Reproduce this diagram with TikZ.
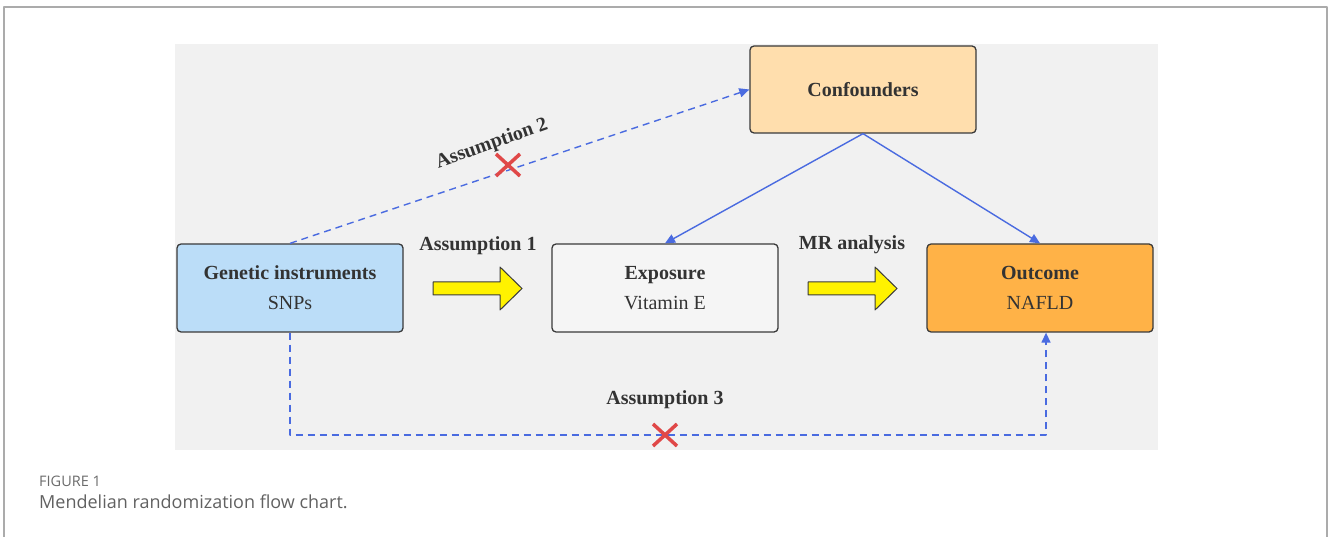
\documentclass[tikz,border=0pt]{standalone}
\usepackage{fontspec}
\setmainfont{Liberation Serif}
\newfontfamily\captionfont{Open Sans}
\usetikzlibrary{arrows.meta}
\definecolor{panel}{HTML}{F1F1F1}
\definecolor{frame}{HTML}{ABABAB}
\definecolor{edge}{HTML}{3A3A3A}
\definecolor{ink}{HTML}{333333}
\definecolor{link}{HTML}{4A6BE0}
\definecolor{cross}{HTML}{E04848}
\definecolor{genfill}{HTML}{BBDDF8}
\definecolor{expfill}{HTML}{F5F5F5}
\definecolor{outfill}{HTML}{FFB247}
\definecolor{confill}{HTML}{FFDEAD}
\begin{document}
\begin{tikzpicture}[x=1pt, y=-1pt, line join=round, font=\fontsize{20}{30}\selectfont,
  >={Triangle[length=10pt,width=9pt]},
  box/.style={draw=edge, line width=1.3pt, rounded corners=4pt, minimum width=226pt,
    minimum height=88pt, align=center, inner sep=0pt, text=ink},
  lbl/.style={text=ink, font=\fontsize{20}{24}\selectfont\bfseries},
  solidlink/.style={draw=link, line width=1.4pt, ->},
  dashlink/.style={draw=link, line width=1.4pt, dash pattern=on 7pt off 5pt, ->}]
	\useasboundingbox (0,0) rectangle (1328,537);
	\draw[frame, line width=1.5pt] (4,537) -- (4,7) -- (1327,7) -- (1327,537);
	\fill[panel] (175,44) rectangle (1158,450);
	% boxes
	\node[box, fill=genfill] (gen) at (290,288) {\textbf{Genetic instruments}\\SNPs};
	\node[box, fill=expfill] (expo) at (665,288) {\textbf{Exposure}\\Vitamin E};
	\node[box, fill=outfill] (outc) at (1040,288) {\textbf{Outcome}\\NAFLD};
	\node[box, fill=confill, minimum height=87pt] (conf) at (863,89.5) {\textbf{Confounders}};
	% yellow arrows
	\foreach \xa in {433, 808}
		\filldraw[fill=yellow, draw=edge, line width=1pt] (\xa,282) -- (\xa+67,282) -- (\xa+67,267)
			-- (\xa+89,288.5) -- (\xa+67,310) -- (\xa+67,295) -- (\xa,295) -- cycle;
	\node[lbl] (a1) at (478,246) {Assumption 1};
	\node[lbl] (mr) at (852,245) {MR analysis};
	\node[lbl] (a3) at (665,400) {Assumption 3};
	\node[lbl, rotate=19.5] (a2) at (492,144) {Assumption 2};
	% links
	\draw[solidlink] (conf.south) -- (expo.north);
	\draw[solidlink] (conf.south) -- (outc.north);
	\draw[dashlink] (gen.north) -- (conf.west);
	\coordinate (low) at (290,435);
	\draw[dashlink] (gen.south) -- (low) -| ([xshift=6pt]outc.south);
	\foreach \c in {(508,165), (665,435)}
		\draw[cross, line width=3.5pt] \c ++(-12,-11) -- ++(24,22) \c ++(-12,11) -- ++(24,-22);
	% caption
	\node[anchor=base west, inner sep=0pt, text=black!58, font=\captionfont\fontsize{14.5}{16}\selectfont] (fig) at (39,486) {FIGURE 1};
	\node[anchor=base west, inner sep=0pt, text=black!62, font=\captionfont\fontsize{18}{20}\selectfont] (cap) at (39,508) {Mendelian randomization flow chart.};
\end{tikzpicture}
\end{document}
